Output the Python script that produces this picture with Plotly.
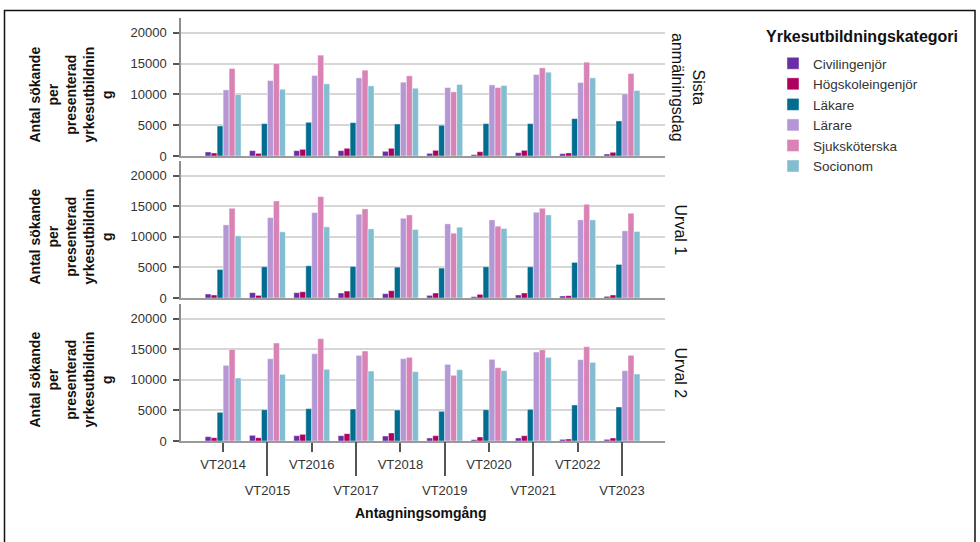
import plotly.graph_objects as go

years = ["VT2014", "VT2015", "VT2016", "VT2017", "VT2018",
         "VT2019", "VT2020", "VT2021", "VT2022", "VT2023"]
categories = ["Civilingenjör", "Högskoleingenjör", "Läkare", "Lärare", "Sjuksköterska", "Socionom"]
colors = ["#6a2da6", "#b0005f", "#006d91", "#b497d4", "#d982b5", "#82bdd1"]
panels = ["Sista<br>anmälningsdag", "Urval 1", "Urval 2"]

# Sista anmälningsdag
sista_civ = [650, 870, 870, 870, 760, 430, 220, 540, 380, 330]
sista_hog = [490, 430, 1080, 1250, 1250, 920, 700, 920, 490, 600]
sista_lak = [4880, 5260, 5470, 5420, 5200, 4990, 5260, 5260, 6070, 5690]
sista_lar = [10730, 12250, 13060, 12680, 11980, 11110, 11540, 13220, 11920, 10080]
sista_sjuk = [14200, 15010, 16370, 13930, 13010, 10410, 11110, 14310, 15230, 13390]
sista_soc = [9970, 10840, 11710, 11380, 11000, 11600, 11440, 13600, 12680, 10620]

# Urval 1
urval1_civ = [650, 870, 870, 820, 710, 430, 220, 490, 330, 270]
urval1_hog = [490, 430, 1030, 1140, 1200, 820, 600, 820, 380, 490]
urval1_lak = [4670, 5110, 5270, 5160, 5050, 4890, 5110, 5110, 5820, 5490]
urval1_lar = [11960, 13150, 13970, 13700, 13040, 12120, 12770, 14020, 12770, 10980]
urval1_sjuk = [14670, 15870, 16580, 14570, 13590, 10600, 11740, 14670, 15330, 13860]
urval1_soc = [10160, 10820, 11630, 11300, 11200, 11580, 11360, 13590, 12770, 10870]

# Urval 2
urval2_civ = [710, 930, 870, 870, 820, 490, 220, 490, 270, 270]
urval2_hog = [540, 540, 1090, 1200, 1310, 870, 650, 870, 330, 490]
urval2_lak = [4690, 5120, 5290, 5230, 5070, 4850, 5120, 5180, 5890, 5560]
urval2_lar = [12370, 13460, 14280, 14010, 13460, 12530, 13350, 14550, 13300, 11500]
urval2_sjuk = [14990, 16020, 16730, 14710, 13680, 10740, 11990, 14930, 15420, 14010]
urval2_soc = [10300, 10900, 11720, 11440, 11340, 11660, 11500, 13680, 12860, 10950]

y_ticks = [0, 5000, 10000, 15000, 20000]

panel_data = [
    [sista_civ, sista_hog, sista_lak, sista_lar, sista_sjuk, sista_soc],
    [urval1_civ, urval1_hog, urval1_lak, urval1_lar, urval1_sjuk, urval1_soc],
    [urval2_civ, urval2_hog, urval2_lak, urval2_lar, urval2_sjuk, urval2_soc],
]

FONT = "Liberation Sans, Arial, sans-serif"
W, H = 980, 542
L, R, T, B = 181, 665, 18, 441  # plot area in pixels


def px_x(p):
    return (p - L) / (R - L)


def px_y(p):
    return (B - p) / (B - T)


xpos = list(range(len(years)))
fig = go.Figure()
for pi, series in enumerate(panel_data):
    xa = "x" if pi == 0 else f"x{pi + 1}"
    ya = "y" if pi == 0 else f"y{pi + 1}"
    for ci, vals in enumerate(series):
        fig.add_trace(go.Bar(
            x=xpos, y=vals, name=categories[ci],
            marker=dict(color=colors[ci], line=dict(color="rgba(255,255,255,0.55)", width=0.8)),
            legendgroup=categories[ci], showlegend=(pi == 0),
            xaxis=xa, yaxis=ya,
        ))

# panel domains (pixels -> paper)
doms = [(18, 156), (161, 298), (304, 441)]
xr = [-0.95, 9.97]
yr = [0, 22400]

layout = dict(
    width=W, height=H,
    margin=dict(l=L, r=W - R, t=T, b=H - B, autoexpand=False),
    paper_bgcolor="white", plot_bgcolor="white",
    barmode="group", bargap=0.19, bargroupgap=0,
    font=dict(family=FONT, size=13, color="#333333"),
    legend=dict(
        x=px_x(773), y=px_y(48), xanchor="left", yanchor="top",
        font=dict(family=FONT, size=13.5, color="#333333"),
        tracegroupgap=0, itemclick=False, bgcolor="rgba(0,0,0,0)",
    ),
)

for pi, (top, bot) in enumerate(doms):
    sfx = "" if pi == 0 else str(pi + 1)
    layout["yaxis" + sfx] = dict(
        domain=[px_y(bot), px_y(top)], range=yr, anchor="x" + sfx,
        tickvals=y_ticks, ticktext=[str(v) for v in y_ticks],
        ticks="outside", ticklen=6, tickwidth=1.5, tickcolor="#555555",
        ticklabelstandoff=4, automargin=False,
        showline=True, linecolor="#8c8c8c", linewidth=1.5,
        showgrid=True, gridcolor="#d6d6d6", gridwidth=1.5,
        zeroline=False, tickfont=dict(size=13, color="#333333"),
        fixedrange=True,
    )
    layout["xaxis" + sfx] = dict(
        domain=[0, 1], range=xr, anchor="y" + sfx, automargin=False,
        showline=True, linecolor="#9a9a9a", linewidth=1.5,
        showgrid=False, zeroline=False, fixedrange=True,
        tickvals=[], showticklabels=False,
    )
    if pi > 0:
        layout["xaxis" + sfx]["matches"] = "x"

# bottom axis: even years short ticks, odd years long ticks (staggered labels)
layout["xaxis3"].update(
    tickvals=xpos[0::2], ticktext=years[0::2], showticklabels=True,
    ticks="outside", ticklen=9, tickwidth=1.5, tickcolor="#555555",
    tickfont=dict(size=13, color="#333333"), ticklabelstandoff=2,
)
layout["xaxis4"] = dict(
    overlaying="x3", anchor="y3", range=xr, matches="x", automargin=False,
    tickvals=xpos[1::2], ticktext=years[1::2], showticklabels=True,
    ticks="outside", ticklen=34, tickwidth=1.5, tickcolor="#555555",
    tickfont=dict(size=13, color="#333333"), ticklabelstandoff=3,
    showline=False, showgrid=False, zeroline=False, fixedrange=True,
)
fig.update_layout(**layout)

# invisible helper trace so the overlaying axis is drawn
fig.add_trace(go.Scatter(x=[xpos[0]], y=[0], xaxis="x4", yaxis="y3", mode="markers",
                         marker=dict(opacity=0), showlegend=False, hoverinfo="skip"))

ytitle = "Antal sökande<br>per<br>presenterad<br>yrkesutbildnin<br>g"
annotations = []
for yc in [94.5, 236.5, 379.5]:
    annotations.append(dict(
        text="<b>" + ytitle + "</b>", xref="paper", yref="paper",
        x=px_x(71), y=px_y(yc), xanchor="center", yanchor="middle",
        textangle=-90, showarrow=False,
        font=dict(family=FONT, size=14, color="#111111"),
    ))
for name, xc, yc in zip(panels, [688, 680, 680], [87, 229.5, 372.5]):
    annotations.append(dict(
        text=name, xref="paper", yref="paper",
        x=px_x(xc), y=px_y(yc), xanchor="center", yanchor="middle",
        textangle=90, showarrow=False,
        font=dict(family=FONT, size=16, color="#111111"),
    ))
annotations.append(dict(
    text="<b>Antagningsomgång</b>", xref="paper", yref="paper",
    x=px_x(420), y=px_y(513), xanchor="center", yanchor="middle",
    showarrow=False, font=dict(family=FONT, size=14, color="#111111"),
))
# legend title
annotations.append(dict(
    text="<b>Yrkesutbildningskategori</b>", xref="paper", yref="paper",
    x=px_x(862), y=px_y(37), xanchor="center", yanchor="middle",
    showarrow=False, font=dict(family=FONT, size=16, color="#111111"),
))
fig.update_layout(annotations=annotations)

# outer frame
fig.add_shape(type="rect", xref="paper", yref="paper",
              x0=px_x(4.5), x1=px_x(975), y0=px_y(548), y1=px_y(10.5),
              line=dict(color="#111111", width=1.5), fillcolor="rgba(0,0,0,0)", layer="above")

fig.write_html("out.html", config={"displayModeBar": False},
               post_script="document.body.style.margin='0';document.body.style.overflow='hidden';")
